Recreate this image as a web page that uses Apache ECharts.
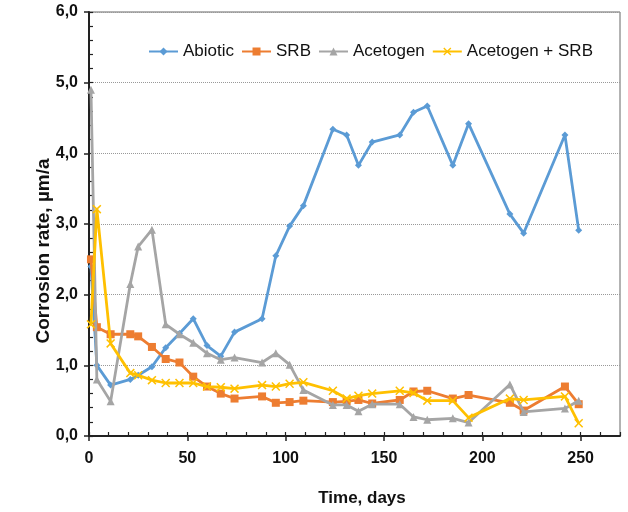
<!DOCTYPE html>
<html>
<head>
<meta charset="utf-8">
<script src="https://cdn.jsdelivr.net/npm/echarts@6/dist/echarts.min.js"></script>
<style>
html,body{margin:0;padding:0;background:#fff;}
#c{width:628px;height:512px;}
</style>
</head>
<body>
<div id="c"></div>
<script>
var days = [1, 4, 11, 21, 25, 32, 39, 46, 53, 60, 67, 74, 88, 95, 102, 109, 124, 131, 137, 144, 158, 165, 172, 185, 193, 214, 221, 242, 249];
var abiotic = [2.40, 1.00, 0.72, 0.80, 0.86, 0.98, 1.25, 1.45, 1.66, 1.28, 1.13, 1.47, 1.66, 2.55, 2.97, 3.26, 4.34, 4.26, 3.83, 4.16, 4.26, 4.58, 4.67, 3.83, 4.42, 3.14, 2.87, 4.26, 2.91];
var srb = [2.50, 1.54, 1.44, 1.44, 1.41, 1.26, 1.09, 1.04, 0.84, 0.70, 0.60, 0.53, 0.56, 0.47, 0.48, 0.50, 0.48, 0.49, 0.51, 0.46, 0.51, 0.63, 0.64, 0.53, 0.58, 0.47, 0.36, 0.70, 0.45];
var acetogen = [4.90, 0.80, 0.49, 2.15, 2.68, 2.92, 1.58, 1.44, 1.32, 1.17, 1.08, 1.11, 1.04, 1.17, 1.01, 0.65, 0.44, 0.44, 0.35, 0.45, 0.45, 0.27, 0.23, 0.25, 0.19, 0.73, 0.34, 0.39, 0.50];
var acetoSrb = [1.58, 3.21, 1.31, 0.89, 0.86, 0.79, 0.75, 0.75, 0.75, 0.70, 0.69, 0.67, 0.72, 0.70, 0.74, 0.76, 0.64, 0.53, 0.57, 0.60, 0.64, 0.61, 0.50, 0.50, 0.26, 0.53, 0.51, 0.56, 0.18];
var seriesNames = ['Abiotic', 'SRB', 'Acetogen', 'Acetogen + SRB'];
var xTicks = [0, 50, 100, 150, 200, 250];
var xTitle = 'Time, days';
var yTitle = 'Corrosion rate, µm/a';

function pairs(ys) { return days.map(function (d, i) { return [d, ys[i]]; }); }

var xSymbol = 'path://M0,1.2 L1.2,0 L5,3.8 L8.8,0 L10,1.2 L6.2,5 L10,8.8 L8.8,10 L5,6.2 L1.2,10 L0,8.8 L3.8,5 Z';
var colors = ['#5B9BD5', '#ED7D31', '#A5A5A5', '#FFC000'];
var symbols = ['diamond', 'rect', 'triangle', xSymbol];
var sizes = [7, 8, 8, 9];
var dataSets = [abiotic, srb, acetogen, acetoSrb];

var font = '"Liberation Sans", Arial, sans-serif';
var chart = echarts.init(document.getElementById('c'), null, {renderer: 'canvas'});
chart.setOption({
  animation: false,
  backgroundColor: '#fff',
  color: colors,
  grid: {left: 89, right: 8, top: 12, bottom: 76, show: true, borderColor: '#666', borderWidth: 1},
  legend: {
    top: 43, left: 148, padding: 0, itemWidth: 29, itemHeight: 10, itemGap: 7,
    textStyle: {fontFamily: font, fontSize: 17, color: '#111'},
    data: seriesNames
  },
  graphic: [
    {type: 'text', x: 362, y: 498, style: {text: xTitle, fontFamily: font, fontSize: 17, fontWeight: 'bold', fill: '#111', textAlign: 'center', textVerticalAlign: 'middle'}},
    {type: 'text', x: 44, y: 251, rotation: Math.PI / 2, style: {text: yTitle, fontFamily: font, fontSize: 19, fontWeight: 'bold', fill: '#111', textAlign: 'center', textVerticalAlign: 'middle'}}
  ],
  xAxis: [{
    type: 'value', min: 0, max: 270, interval: 50,
    axisLine: {show: true, lineStyle: {color: '#222', width: 2}},
    axisTick: {show: true, inside: false, length: 5, lineStyle: {color: '#222', width: 1.5}, customValues: xTicks},
    axisLabel: {fontFamily: font, fontSize: 16, fontWeight: 'bold', color: '#111', margin: 15, customValues: xTicks},
    splitLine: {show: false}
  }, {
    type: 'value', min: 0, max: 270, interval: 10, position: 'bottom',
    axisLine: {show: false},
    axisTick: {show: true, inside: true, length: 4, lineStyle: {color: '#222', width: 1.2}},
    axisLabel: {show: false}, splitLine: {show: false}
  }],
  yAxis: [{
    type: 'value', min: 0, max: 6, interval: 1,
    axisLine: {show: true, lineStyle: {color: '#222', width: 2}},
    axisTick: {show: true, inside: false, length: 5, lineStyle: {color: '#222', width: 1.5}},
    axisLabel: {fontFamily: font, fontSize: 16, fontWeight: 'bold', color: '#111', margin: 11,
      formatter: function (v) { return v.toFixed(1).replace('.', ','); }},
    splitLine: {show: true, lineStyle: {color: '#999', type: 'dotted', width: 1}}
  }, {
    type: 'value', min: 0, max: 6, interval: 0.2, position: 'left',
    axisLine: {show: false},
    axisTick: {show: true, inside: true, length: 4, lineStyle: {color: '#222', width: 1.2}},
    axisLabel: {show: false}, splitLine: {show: false}
  }],
  series: seriesNames.map(function (n, i) {
    return {
      name: n, type: 'line', xAxisIndex: 0, yAxisIndex: 0,
      data: pairs(dataSets[i]),
      symbol: symbols[i], symbolSize: sizes[i], showAllSymbol: true,
      lineStyle: {width: 2.8, color: colors[i]},
      itemStyle: {color: colors[i]},
      z: 2 + i
    };
  })
});
</script>
</body>
</html>
